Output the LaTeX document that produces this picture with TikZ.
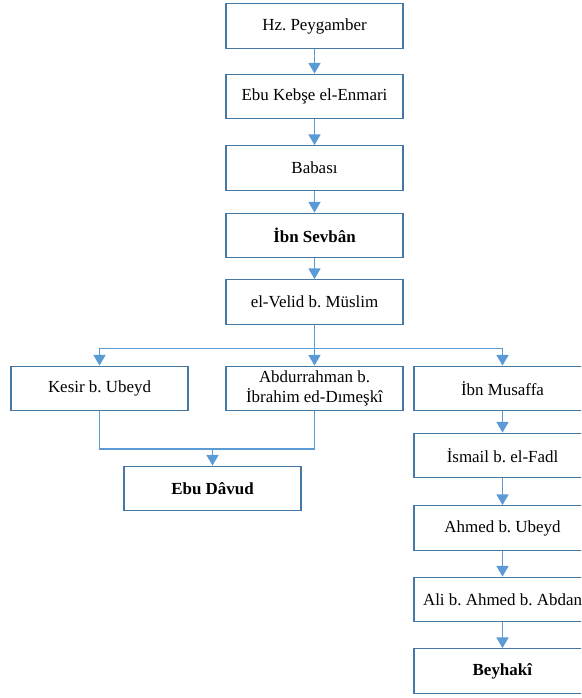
\documentclass[tikz,border=0pt]{standalone}
\usepackage{fontspec}
\setmainfont{Liberation Serif}
\usetikzlibrary{arrows.meta}
\definecolor{boxblue}{RGB}{70,120,165}
\definecolor{linkblue}{RGB}{91,155,213}
\frenchspacing
\tikzset{
	ravi/.style={draw=boxblue, line width=0.85pt, fill=white, minimum width=132.75pt, minimum height=33.5pt, inner sep=2pt, align=center, font=\fontsize{12.7}{15}\selectfont},
	link/.style={draw=linkblue, line width=1.1pt, -{Triangle[width=9pt,length=8pt]}},
	plain/.style={draw=linkblue, line width=1.1pt}
}

\begin{document}
\begin{tikzpicture}[x=0.75pt, y=-0.75pt]
			%%%%% START %%%%%
			\useasboundingbox (0, 0) rectangle (581, 698);
			\clip (0, 0) rectangle (581, 698);
			
			\node[ravi] (peygamber) at (314.5, 26) {Hz. Peygamber};
			\node[ravi] (kebse) at (314.5, 96.5) {Ebu Kebşe el-Enmari};
			\node[ravi] (babasi) at (314.5, 168) {Babası};
			\node[ravi] (sevban) at (314.5, 235.5) {\textbf{İbn Sevbân}};
			\node[ravi] (velid) at (314.5, 302) {el-Velid b. Müslim};
			
			\node[ravi] (kesir) at (99.5, 388.5) {Kesir b. Ubeyd};
			\node[ravi] (abdurrahman) at (314.5, 388.5) {Abdurrahman b.\\İbrahim ed-Dımeşkî};
			\node[ravi] (musaffa) at (502.5, 388.5) {İbn Musaffa};
			\node[ravi] (davud) at (212.5, 488.5) {\textbf{Ebu Dâvud}};
			
			\node[ravi] (ismail) at (502.5, 455.5) {İsmail b. el-Fadl};
			\node[ravi] (ahmed) at (502.5, 528) {Ahmed b. Ubeyd};
			\node[ravi] (ali) at (502.5, 599.5) {Ali b. Ahmed b. Abdan};
			\node[ravi] (beyhaki) at (502.5, 671) {\textbf{Beyhakî}};
			
			\coordinate (split) at (314.5, 348.5);
			\coordinate (merge) at (212.5, 449);
			
			\draw[link] (peygamber) -- (kebse);
			\draw[link] (kebse) -- (babasi);
			\draw[link] (babasi) -- (sevban);
			\draw[link] (sevban) -- (velid);
			\draw[link] (velid) -- (abdurrahman);
			\draw[link] (split) -| (kesir);
			\draw[link] (split) -| (musaffa);
			
			\draw[plain] (kesir) |- (merge);
			\draw[plain] (abdurrahman) |- (merge);
			\draw[link] (merge) -- (davud);
			
			\draw[link] (musaffa) -- (ismail);
			\draw[link] (ismail) -- (ahmed);
			\draw[link] (ahmed) -- (ali);
			\draw[link] (ali) -- (beyhaki);
			
			%%%%% END %%%%%
\end{tikzpicture}
\end{document}
